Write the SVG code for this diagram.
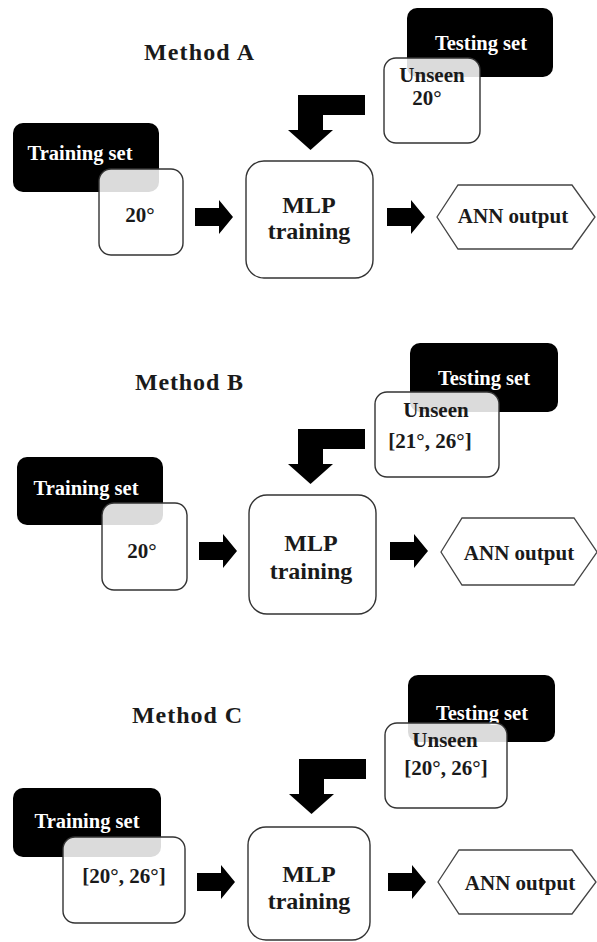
<svg xmlns="http://www.w3.org/2000/svg" xmlns:xlink="http://www.w3.org/1999/xlink" width="597" height="942" viewBox="0 0 597 942">
<style>
  text { font-family: 'Liberation Serif', 'Times New Roman', Times, serif; font-weight: bold; text-anchor: middle; fill: #1a1a1a; }
  .title { font-size: 24px; }
  .inv { fill: #ffffff; font-size: 20.5px; }
  .lbl { font-size: 21px; }
  .big { font-size: 24px; }
  .set { fill: #000000; }
  .box { fill: #ffffff; fill-opacity: 0.86; stroke: #333333; stroke-width: 1.4; }
  .hex { fill: #ffffff; stroke: #444444; stroke-width: 1.3; }
  .arr { fill: #000000; }
</style>
<defs>
  <path id="rarrow" d="M0,-9 H24 V-17 L38,0 L24,17 V9 H0 Z"/>
  <path id="barrow" d="M67,0 H0 V35 H-10 L12.5,55 L35,35 H25 V20 H67 Z"/>
</defs>
<rect width="597" height="942" fill="#ffffff"/>
<g font-family="Liberation Serif, serif">

<!-- Method A -->
<g id="titleA"><text class="title" x="199" y="60" textLength="110" lengthAdjust="spacing">Method A</text></g>
<g id="trainA">
  <rect class="set" x="13" y="123" width="146" height="69" rx="10"/>
  <text class="inv" x="80" y="160">Training set</text>
</g>
<g id="dataA">
  <rect class="box" x="99" y="169" width="84" height="86" rx="12"/>
  <text class="lbl" x="140" y="222">20°</text>
</g>
<g id="mlpA">
  <rect class="box" x="246" y="161" width="127" height="117" rx="18"/>
  <text class="big" x="309" y="213">MLP</text>
  <text class="big" x="309" y="239">training</text>
</g>
<g id="testA">
  <rect class="set" x="407" y="8" width="146" height="69" rx="10"/>
  <text class="inv" x="481" y="50">Testing set</text>
</g>
<g id="unseenA">
  <rect class="box" x="384" y="58" width="96" height="85" rx="12"/>
  <text class="lbl" x="432" y="82">Unseen</text>
  <text class="lbl" x="427" y="105">20°</text>
</g>
<g id="outA">
  <polygon class="hex" points="437,217 458,185 572,185 595,217 572,249 458,249"/>
  <text class="lbl" x="513" y="223">ANN output</text>
</g>

<!-- Method B -->
<g id="titleB"><text class="title" x="189" y="390" textLength="108" lengthAdjust="spacing">Method B</text></g>
<g id="trainB">
  <rect class="set" x="17" y="457" width="146" height="68" rx="10"/>
  <text class="inv" x="86" y="495">Training set</text>
</g>
<g id="dataB">
  <rect class="box" x="102" y="503" width="85" height="87" rx="12"/>
  <text class="lbl" x="142" y="558">20°</text>
</g>
<g id="mlpB">
  <rect class="box" x="249" y="495" width="127" height="119" rx="18"/>
  <text class="big" x="311" y="551">MLP</text>
  <text class="big" x="311" y="579">training</text>
</g>
<g id="testB">
  <rect class="set" x="410" y="343" width="148" height="69" rx="10"/>
  <text class="inv" x="484" y="385">Testing set</text>
</g>
<g id="unseenB">
  <rect class="box" x="375" y="392" width="124" height="85" rx="12"/>
  <text class="lbl" x="436" y="417">Unseen</text>
  <text class="lbl" x="430" y="448">[21°, 26°]</text>
</g>
<g id="outB">
  <polygon class="hex" points="441,552 462,518 574,518 597,552 574,585 462,585"/>
  <text class="lbl" x="519" y="560">ANN output</text>
</g>

<!-- Method C -->
<g id="titleC"><text class="title" x="187" y="723" textLength="110" lengthAdjust="spacing">Method C</text></g>
<g id="trainC">
  <rect class="set" x="13" y="788" width="148" height="69" rx="10"/>
  <text class="inv" x="87" y="828">Training set</text>
</g>
<g id="dataC">
  <rect class="box" x="63" y="837" width="122" height="86" rx="12"/>
  <text class="lbl" x="124" y="883">[20°, 26°]</text>
</g>
<g id="mlpC">
  <rect class="box" x="248" y="827" width="122" height="113" rx="18"/>
  <text class="big" x="309" y="882">MLP</text>
  <text class="big" x="309" y="909">training</text>
</g>
<g id="testC">
  <rect class="set" x="408" y="675" width="147" height="67" rx="10"/>
  <text class="inv" x="482" y="720">Testing set</text>
</g>
<g id="unseenC">
  <rect class="box" x="385" y="723" width="122" height="85" rx="12"/>
  <text class="lbl" x="445" y="747">Unseen</text>
  <text class="lbl" x="446" y="775">[20°, 26°]</text>
</g>
<g id="outC">
  <polygon class="hex" points="438,882 459,850 572,850 596,882 572,914 459,914"/>
  <text class="lbl" x="520" y="890">ANN output</text>
</g>
</g>

<g id="connectors" class="arr">
  <use xlink:href="#rarrow" transform="translate(195,217)"/>
  <use xlink:href="#rarrow" transform="translate(387,217)"/>
  <use xlink:href="#barrow" transform="translate(298,95)"/>
  <use xlink:href="#rarrow" transform="translate(199,551)"/>
  <use xlink:href="#rarrow" transform="translate(390,551)"/>
  <use xlink:href="#barrow" transform="translate(298,429)"/>
  <use xlink:href="#rarrow" transform="translate(197,882)"/>
  <use xlink:href="#rarrow" transform="translate(388,882)"/>
  <use xlink:href="#barrow" transform="translate(299,759)"/>
</g>
</svg>
